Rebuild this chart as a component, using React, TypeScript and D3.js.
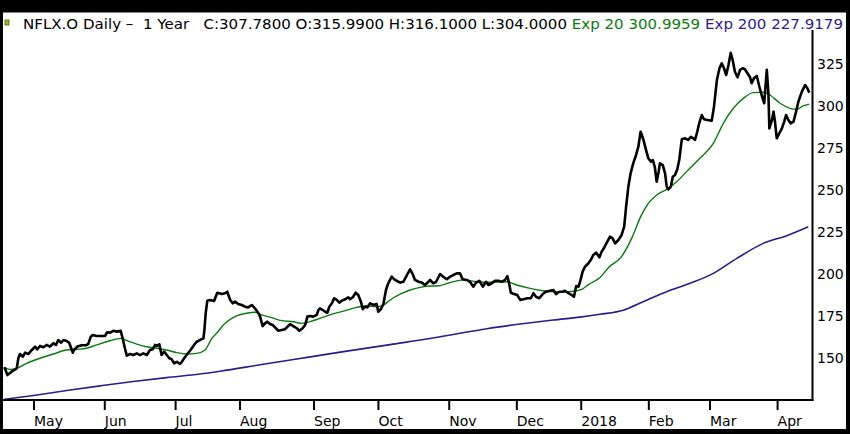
import { useEffect, useRef } from "react";
import * as d3 from "d3";

// trading-day index (0 = 18 Apr 2017) and value
const closePts: [number, number][] = [
  [0, 144.7], [0.9, 140.1], [2.2, 142.1], [3.8, 144.1], [4.3, 150.1], [4.8, 152.6], [5.7, 151.0], [6.4, 153.4],
  [7.4, 152.6], [8.5, 155.0], [9.5, 157.0], [10.2, 155.4], [11.0, 157.4], [12.1, 156.6], [13.1, 158.0], [14.1, 157.0],
  [15.2, 159.0], [16.0, 158.0], [16.7, 160.9], [17.6, 159.3], [18.3, 160.9], [19.3, 160.3], [20.1, 159.3], [20.7, 156.0],
  [21.2, 153.4], [21.6, 155.0], [22.6, 157.0], [24.0, 157.8], [25.3, 157.8], [26.0, 158.5], [26.8, 162.9], [27.4, 163.9],
  [28.6, 163.3], [30.2, 163.3], [31.2, 163.3], [31.9, 165.5], [32.8, 165.3], [33.8, 166.4], [34.9, 165.9], [36.1, 166.4],
  [36.7, 161.9], [37.4, 156.0], [38.0, 151.6], [39.0, 152.6], [40.0, 152.0], [41.1, 153.0], [42.1, 152.0], [43.1, 153.0],
  [44.2, 152.0], [45.2, 155.0], [46.0, 155.4], [46.8, 158.0], [47.3, 157.4], [48.1, 158.4], [48.8, 152.0], [49.6, 154.0],
  [50.4, 152.0], [51.2, 150.1], [51.9, 149.5], [52.7, 147.1], [53.5, 148.0], [54.5, 146.7], [55.1, 148.0], [55.8, 150.1],
  [56.8, 152.6], [57.8, 155.0], [58.9, 158.0], [59.7, 159.9], [60.7, 160.9], [61.8, 161.9], [62.1, 166.9], [62.5, 176.8],
  [63.0, 184.3], [63.8, 184.7], [65.1, 184.1], [66.1, 189.0], [67.5, 188.2], [68.5, 188.7], [69.2, 189.6], [70.1, 184.7],
  [70.9, 182.7], [71.6, 183.7], [72.6, 182.3], [73.7, 181.7], [74.7, 180.7], [75.7, 180.3], [76.8, 181.7], [77.8, 179.7],
  [78.9, 176.8], [79.4, 174.8], [80.2, 169.2], [80.9, 170.8], [81.6, 171.8], [82.5, 170.4], [83.3, 169.8], [84.0, 168.5],
  [85.1, 166.4], [86.1, 166.9], [87.1, 167.3], [87.9, 168.8], [88.7, 170.4], [89.7, 169.2], [90.8, 167.9], [91.6, 166.4],
  [92.6, 167.9], [93.4, 169.8], [94.1, 174.8], [94.9, 175.2], [95.9, 174.8], [97.0, 175.8], [97.5, 178.7], [98.0, 179.7],
  [98.9, 178.7], [99.6, 177.7], [100.3, 177.1], [100.9, 180.7], [101.7, 182.7], [102.4, 185.7], [103.2, 184.7], [104.0, 183.1],
  [104.8, 184.3], [105.8, 185.1], [106.8, 186.3], [107.3, 185.1], [108.2, 186.3], [109.1, 189.0], [109.9, 187.6], [110.7, 183.7],
  [111.3, 179.2], [112.0, 180.7], [112.7, 180.3], [113.6, 182.7], [114.6, 181.7], [115.6, 182.3], [116.1, 177.7], [116.9, 179.2],
  [117.7, 182.3], [118.5, 190.6], [119.2, 194.6], [120.3, 198.5], [121.0, 197.0], [121.8, 196.1], [122.9, 195.0], [123.9, 195.5],
  [125.0, 199.5], [126.0, 202.9], [126.8, 200.1], [127.5, 196.6], [128.6, 195.5], [129.6, 195.0], [130.6, 193.6], [131.7, 195.5],
  [132.2, 196.6], [133.2, 194.6], [134.1, 195.5], [135.3, 200.1], [136.3, 198.5], [137.4, 197.0], [138.4, 198.5], [139.4, 199.5],
  [140.5, 200.5], [141.5, 200.5], [142.3, 197.0], [143.6, 196.6], [144.6, 195.5], [145.6, 192.6], [146.5, 195.0], [147.5, 196.1],
  [148.6, 192.6], [149.6, 195.5], [150.3, 193.6], [151.4, 194.6], [152.4, 196.1], [153.4, 196.1], [154.5, 195.5], [155.5, 196.6],
  [156.2, 198.9], [156.8, 194.2], [157.3, 189.0], [158.3, 188.2], [159.3, 187.6], [160.2, 184.7], [161.2, 185.1], [162.4, 185.7],
  [163.5, 185.7], [164.3, 188.7], [165.1, 186.6], [166.1, 185.7], [167.2, 188.2], [168.2, 189.6], [169.5, 190.2], [170.5, 190.6],
  [171.3, 188.2], [172.4, 189.6], [173.4, 189.6], [174.1, 190.2], [175.2, 188.7], [176.2, 187.6], [176.9, 186.6], [177.6, 193.0],
  [178.3, 192.6], [178.8, 195.5], [179.6, 201.5], [180.3, 204.4], [181.4, 206.5], [182.1, 208.4], [182.9, 211.4], [183.8, 212.8],
  [184.8, 210.0], [185.5, 213.4], [186.2, 215.4], [187.1, 218.7], [188.1, 222.3], [188.9, 221.3], [189.7, 218.3], [190.7, 220.3],
  [191.7, 223.3], [192.5, 228.2], [193.1, 240.1], [193.8, 252.0], [194.5, 259.9], [195.3, 265.8], [196.2, 270.8], [196.9, 275.7],
  [197.6, 284.6], [198.5, 279.7], [199.3, 273.7], [200.0, 268.8], [200.8, 266.8], [201.4, 267.8], [202.0, 263.8], [202.6, 254.9],
  [203.2, 260.9], [203.6, 265.8], [204.5, 264.8], [205.2, 259.9], [205.7, 252.0], [206.2, 250.4], [207.0, 252.0], [207.6, 257.9],
  [208.3, 258.9], [209.0, 262.3], [209.6, 267.8], [210.4, 280.1], [211.4, 280.7], [212.4, 279.7], [213.2, 281.6], [214.0, 280.7],
  [214.5, 279.7], [215.2, 284.6], [215.8, 289.6], [216.6, 294.5], [217.3, 292.0], [218.3, 291.6], [219.7, 291.1], [220.4, 299.5],
  [221.3, 315.3], [222.1, 322.3], [222.8, 325.2], [223.5, 322.3], [224.2, 318.3], [224.9, 324.2], [225.6, 331.5], [226.2, 327.2],
  [226.9, 320.2], [227.7, 316.9], [228.5, 321.3], [229.3, 322.3], [230.0, 321.7], [230.8, 319.3], [231.6, 316.9], [232.1, 313.4],
  [232.8, 316.3], [233.7, 317.7], [234.5, 311.3], [235.2, 306.4], [236.0, 301.5], [236.8, 321.3], [237.3, 307.4], [237.6, 286.6],
  [238.4, 291.6], [238.9, 296.5], [239.4, 289.6], [239.9, 280.7], [240.7, 283.7], [241.5, 286.6], [242.2, 290.6], [242.8, 294.5],
  [243.5, 291.6], [244.2, 289.6], [245.1, 290.6], [245.9, 296.5], [246.6, 302.4], [247.7, 308.4], [248.7, 312.3], [249.4, 310.4],
  [250.0, 307.8],
];

const ema20Pts: [number, number][] = [
  [0, 144.7], [1.7, 143.5], [3.8, 144.1], [6.9, 147.1], [11.0, 150.1], [15.2, 152.6], [19.3, 155.0], [22.4, 155.4],
  [25.5, 156.0], [28.6, 158.0], [32.8, 160.5], [36.1, 161.9], [38.0, 160.5], [41.1, 158.5], [44.2, 156.9], [47.3, 156.0],
  [50.4, 155.0], [53.5, 153.4], [56.6, 152.6], [59.7, 153.0], [62.3, 155.0], [64.4, 161.9], [65.9, 164.9], [68.0, 169.8],
  [70.1, 173.2], [72.1, 175.2], [75.2, 176.8], [77.8, 177.4], [79.9, 175.8], [83.0, 174.2], [86.1, 172.4], [89.7, 171.8],
  [92.3, 170.8], [94.9, 171.8], [98.0, 173.8], [101.1, 175.8], [105.3, 178.1], [109.4, 180.3], [112.5, 181.1], [115.6, 180.7],
  [117.7, 181.7], [119.8, 184.7], [122.9, 188.1], [126.0, 190.6], [129.1, 192.2], [132.2, 193.0], [134.3, 193.0], [138.4, 195.0],
  [142.5, 196.6], [146.7, 195.5], [150.8, 195.2], [156.0, 195.5], [159.1, 193.6], [163.3, 191.6], [167.4, 190.2], [171.5, 189.6],
  [174.6, 189.6], [177.7, 190.2], [179.5, 191.2], [181.5, 194.0], [185.0, 198.0], [187.8, 204.3], [191.5, 210.0], [195.0, 222.0],
  [197.7, 234.5], [200.0, 242.1], [202.6, 247.0], [205.7, 250.4], [208.8, 254.9], [211.9, 260.9], [216.0, 268.8], [220.2, 277.7],
  [223.3, 289.6], [226.4, 298.5], [229.5, 304.4], [232.6, 307.8], [235.7, 308.0], [237.8, 306.4], [240.9, 301.5], [244.0, 298.5],
  [246.1, 297.9], [248.1, 299.9], [250.0, 301.0],
];

const ema200Pts: [number, number][] = [
  [0, 125.7], [9.0, 128.0], [19.3, 130.9], [29.7, 133.7], [40.0, 136.3], [50.4, 138.6], [60.7, 140.7], [67.0, 142.4],
  [79.4, 146.2], [91.3, 149.8], [105.3, 154.0], [119.8, 158.2], [132.2, 161.8], [139.4, 164.2], [149.8, 167.6], [160.2, 170.4],
  [170.5, 172.8], [178.8, 174.5], [185.0, 176.2], [192.2, 178.6], [198.4, 183.7], [205.7, 189.6], [213.0, 194.6], [220.2, 200.5],
  [227.5, 209.4], [235.7, 218.3], [243.0, 222.9], [249.7, 228.2],
];

// first trading day of each month
const monthDays = [9, 31, 53, 73, 96, 116, 138, 159, 179, 200, 219, 240];
const monthLabels = ["May", "Jun", "Jul", "Aug", "Sep", "Oct", "Nov", "Dec", "2018", "Feb", "Mar", "Apr"];
const yTicks = [150, 175, 200, 225, 250, 275, 300, 325];

const FONT = "'DejaVu Sans', Verdana, sans-serif";

const App = () => {
  const ref = useRef<SVGSVGElement | null>(null);

  useEffect(() => {
    if (!ref.current) return;
    const svg = d3.select(ref.current);
    svg.selectAll("*").remove();

    const width = 850;
    const height = 434;

    // black frame with white panel
    svg.append("rect").attr("width", width).attr("height", height).attr("fill", "#000");
    svg.append("rect").attr("x", 3).attr("y", 12.5).attr("width", 843).attr("height", 416.5).attr("fill", "#fff");

    const x = d3.scaleLinear().domain([0, 251]).range([4.5, 812.5]);
    const y = d3.scaleLinear().domain([125, 345]).range([400.5, 30]);

    const line = d3.line<[number, number]>().x(d => x(d[0])).y(d => y(d[1]));
    const smooth = d3.line<[number, number]>().x(d => x(d[0])).y(d => y(d[1])).curve(d3.curveMonotoneX);

    svg.append("path").datum(ema200Pts).attr("d", smooth).attr("fill", "none")
      .attr("stroke", "#2e1a8a").attr("stroke-width", 1.6);
    svg.append("path").datum(ema20Pts).attr("d", smooth).attr("fill", "none")
      .attr("stroke", "#0b7a0f").attr("stroke-width", 1.4);
    svg.append("path").datum(closePts).attr("d", line).attr("fill", "none")
      .attr("stroke", "#000").attr("stroke-width", 2.6).attr("stroke-linejoin", "round");

    // frame lines of the plot
    svg.append("line").attr("x1", 3).attr("x2", 813.5).attr("y1", 400).attr("y2", 400)
      .attr("stroke", "#000").attr("stroke-width", 2);
    svg.append("line").attr("x1", 812.5).attr("x2", 812.5).attr("y1", 30).attr("y2", 401)
      .attr("stroke", "#000").attr("stroke-width", 2);

    // x axis
    const xAxis = svg.append("g")
      .attr("transform", "translate(0,401)")
      .call(d3.axisBottom(x).tickValues(monthDays).tickSize(9).tickPadding(6)
        .tickFormat((_, i) => monthLabels[i]));
    xAxis.select(".domain").remove();
    xAxis.selectAll("line").attr("stroke", "#000").attr("stroke-width", 2);
    xAxis.selectAll("text").attr("text-anchor", "start").attr("fill", "#000")
      .style("font-family", FONT).style("font-size", "14px");

    // y axis on the right
    const yAxis = svg.append("g")
      .attr("transform", "translate(813,0)")
      .call(d3.axisRight(y).tickValues(yTicks).tickSize(0).tickPadding(4));
    yAxis.select(".domain").remove();
    yAxis.selectAll("text").attr("fill", "#000")
      .style("font-family", FONT).style("font-size", "14px");

    // header
    svg.append("rect").attr("x", 5).attr("y", 20).attr("width", 4).attr("height", 5)
      .attr("fill", "#a4b424").attr("stroke", "#4b5a12").attr("stroke-width", 0.8);
    const title = svg.append("text").attr("x", 23).attr("y", 29)
      .attr("textLength", 820).attr("lengthAdjust", "spacingAndGlyphs")
      .style("font-family", FONT).style("font-size", "14.3px").style("white-space", "pre");
    title.append("tspan").attr("fill", "#000")
      .text("NFLX.O Daily \u2013  1 Year   C:307.7800 O:315.9900 H:316.1000 L:304.0000 ");
    title.append("tspan").attr("fill", "#0b7a0f").text("Exp 20 300.9959 ");
    title.append("tspan").attr("fill", "#2e1a8a").text("Exp 200 227.9179");
  }, []);

  return (
    <svg ref={ref} width={850} height={434}
      style={{ position: "absolute", left: 0, top: 0, display: "block" }}></svg>
  );
};

export default App;
